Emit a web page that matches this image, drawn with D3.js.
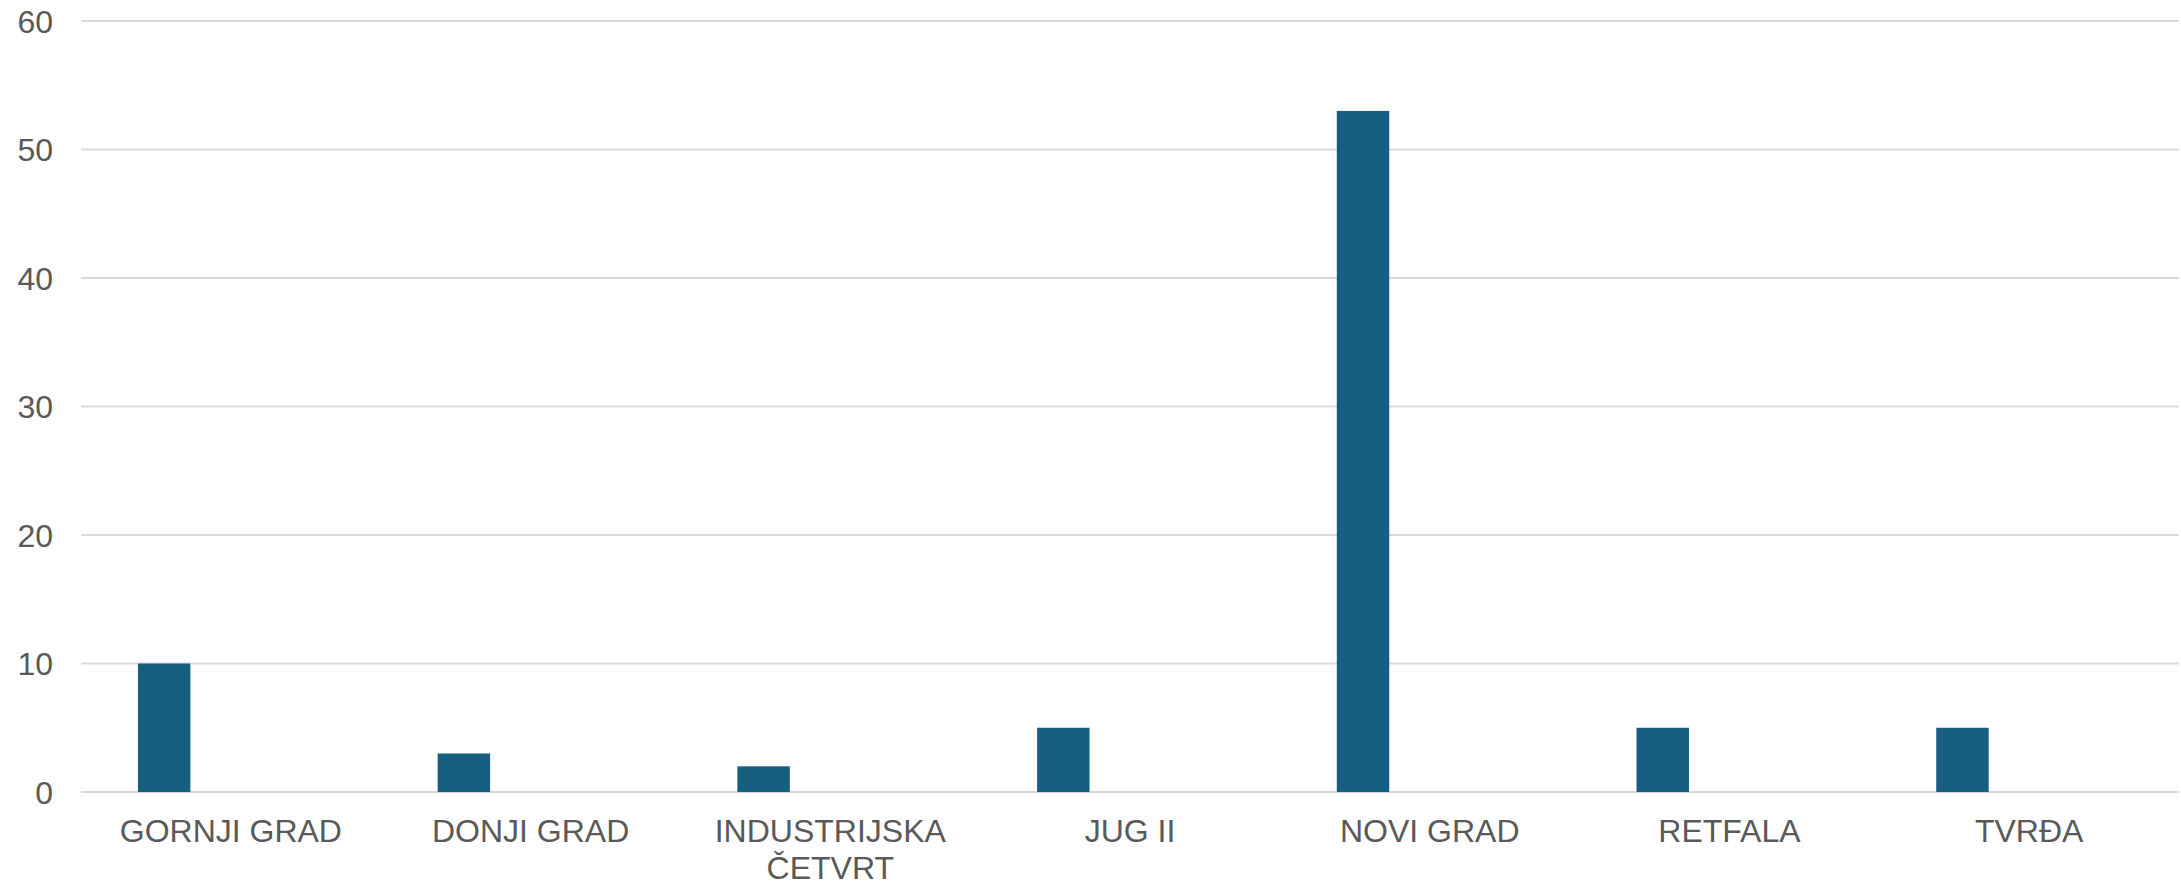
<!DOCTYPE html>
<html>
<head>
<meta charset="utf-8">
<script src="https://cdn.jsdelivr.net/npm/d3@7"></script>
<style>
  html, body { margin: 0; padding: 0; background: #ffffff; }
  svg { display: block; }
  text { font-family: "Liberation Sans", Arial, sans-serif; fill: #595959; }
</style>
</head>
<body>
<svg id="chart" width="2181" height="884"></svg>
<script>
const categories = ["GORNJI GRAD", "DONJI GRAD", "INDUSTRIJSKA ČETVRT", "JUG II", "NOVI GRAD", "RETFALA", "TVRĐA"];
const values = [10, 3, 2, 5, 53, 5, 5];
const yTicks = [0, 10, 20, 30, 40, 50, 60];
const labelLines = [["GORNJI GRAD"], ["DONJI GRAD"], ["INDUSTRIJSKA", "ČETVRT"], ["JUG II"], ["NOVI GRAD"], ["RETFALA"], ["TVRĐA"]];

const W = 2181, H = 884;
const margin = { left: 81, right: 2, top: 21, bottom: 92 };
const svg = d3.select("#chart");

const x = d3.scaleBand().domain(categories).range([margin.left, W - margin.right]).padding(0);
const y = d3.scaleLinear().domain([0, 60]).range([H - margin.bottom, margin.top]);

// gridlines
svg.append("g").selectAll("line").data(yTicks).join("line")
  .attr("x1", margin.left).attr("x2", W - margin.right)
  .attr("y1", d => y(d)).attr("y2", d => y(d))
  .attr("stroke", "#d9d9d9").attr("stroke-width", 2);

// y labels
svg.append("g").selectAll("text").data(yTicks).join("text")
  .attr("x", 53).attr("y", d => y(d))
  .attr("dy", "0.36em")
  .attr("text-anchor", "end")
  .attr("font-size", 32)
  .text(d => d);

// bars
const bw = x.bandwidth();
svg.append("g").selectAll("rect").data(categories).join("rect")
  .attr("x", d => x(d) + bw * 0.19)
  .attr("width", bw * 0.175)
  .attr("y", (d, i) => y(values[i]))
  .attr("height", (d, i) => y(0) - y(values[i]))
  .attr("fill", "#175f80");

// x labels
const xl = svg.append("g").selectAll("text").data(categories).join("text")
  .attr("x", d => x(d) + bw / 2)
  .attr("y", 842)
  .attr("text-anchor", "middle")
  .attr("font-size", 32);
xl.each(function(d, i) {
  const t = d3.select(this);
  labelLines[i].forEach((line, j) => {
    t.append("tspan").attr("x", x(d) + bw / 2).attr("dy", j === 0 ? 0 : 36.5).text(line);
  });
});
</script>
</body>
</html>
